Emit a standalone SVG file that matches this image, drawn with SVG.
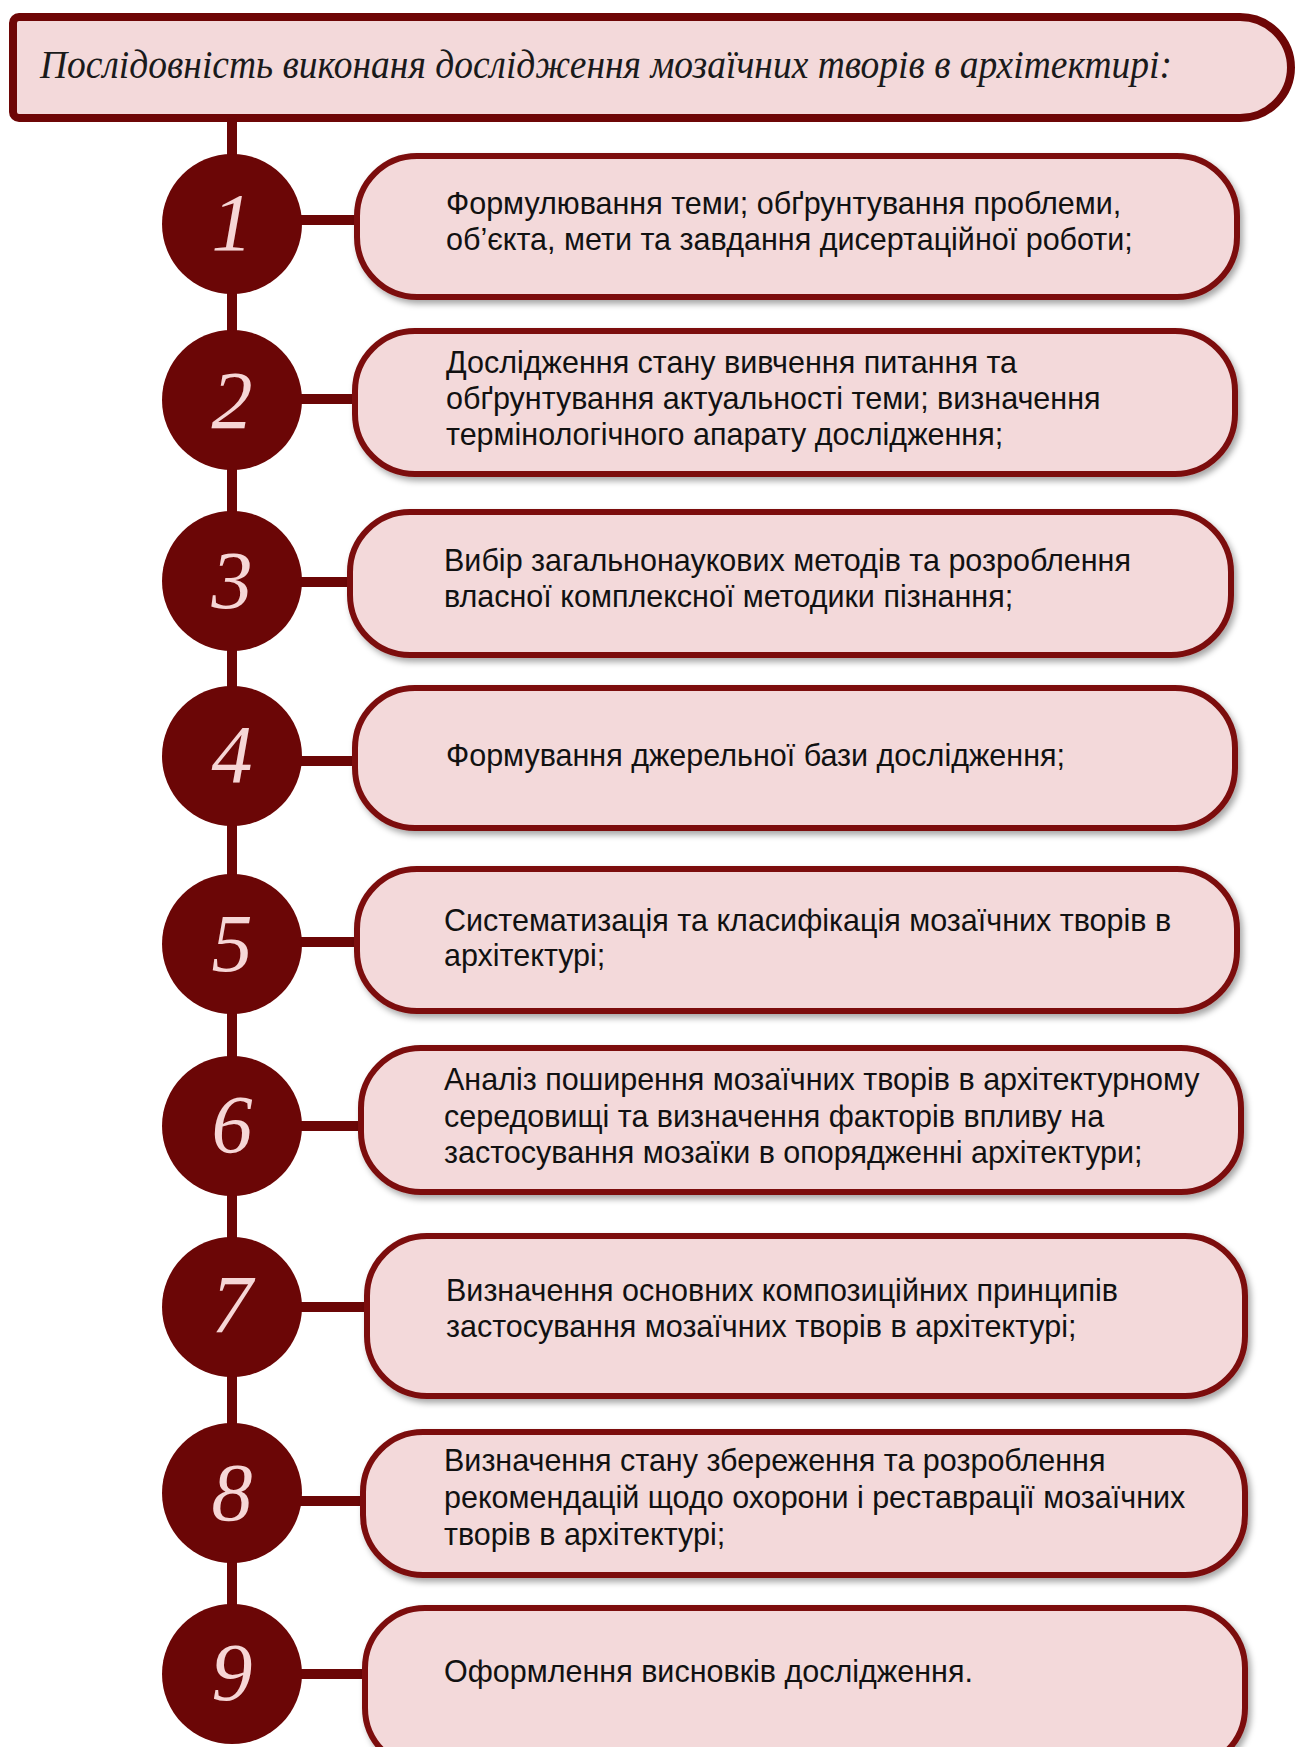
<svg xmlns="http://www.w3.org/2000/svg" width="1295" height="1747" viewBox="0 0 1295 1747">
<defs>
<filter id="sh" x="-5%" y="-10%" width="112%" height="130%">
<feDropShadow dx="3" dy="4" stdDeviation="3" flood-color="#000" flood-opacity="0.35"/>
</filter>
<style>
.box{fill:#f3d9da;stroke:#7b0e0e;stroke-width:6;filter:url(#sh)}
.title{fill:#f3d9da;stroke:#6e0606;stroke-width:8}
.circ{fill:#6b0606}
.num{font-family:"Liberation Serif","Times New Roman",serif;font-style:italic;font-size:82px;fill:#f6d6d6;text-anchor:middle}
.t{font-family:"Liberation Sans",Arial,sans-serif;font-size:30.5px;fill:#111}
.tt{font-family:"Liberation Serif","Times New Roman",serif;font-style:italic;font-size:40px;fill:#1a1a1a}
.ln{stroke:#6b0606;stroke-width:10;fill:none}
</style>
</defs>
<rect width="1295" height="1747" fill="#ffffff"/>
<g id="title">
<path class="title" d="M19 17 H1240 A51 51 0 0 1 1291 68 V67 A51 51 0 0 1 1240 118 H19 A6 6 0 0 1 13 112 V23 A6 6 0 0 1 19 17 Z"/>
<text class="tt" x="40" y="78" textLength="1132" lengthAdjust="spacingAndGlyphs">Послідовність виконаня дослідження мозаїчних творів в архітектирі:</text>
</g>
<g id="connectors">
<line class="ln" x1="232" y1="118" x2="232" y2="1700"/>
<line class="ln" x1="232" y1="220" x2="357" y2="220"/>
<line class="ln" x1="232" y1="399" x2="355" y2="399"/>
<line class="ln" x1="232" y1="582" x2="350" y2="582"/>
<line class="ln" x1="232" y1="761" x2="355" y2="761"/>
<line class="ln" x1="232" y1="942" x2="357" y2="942"/>
<line class="ln" x1="232" y1="1126" x2="361" y2="1126"/>
<line class="ln" x1="232" y1="1307" x2="367" y2="1307"/>
<line class="ln" x1="232" y1="1501" x2="363" y2="1501"/>
<line class="ln" x1="232" y1="1674" x2="365" y2="1674"/>
</g>
<g id="node1">
<circle class="circ" cx="232" cy="224" r="70"/>
<text class="num" x="232" y="250">1</text>
<rect class="box" x="357" y="156" width="880" height="141" rx="60"/>
<text class="t" x="446" y="214">Формулювання теми; обґрунтування проблеми,</text>
<text class="t" x="446" y="250">об’єкта, мети та завдання дисертаційної роботи;</text>
</g>
<g id="node2">
<circle class="circ" cx="232" cy="400" r="70"/>
<text class="num" x="232" y="428">2</text>
<rect class="box" x="355" y="331" width="880" height="143" rx="60"/>
<text class="t" x="446" y="373">Дослідження стану вивчення питання та</text>
<text class="t" x="446" y="409">обґрунтування актуальності теми; визначення</text>
<text class="t" x="446" y="445">термінологічного апарату дослідження;</text>
</g>
<g id="node3">
<circle class="circ" cx="232" cy="581" r="70"/>
<text class="num" x="232" y="608">3</text>
<rect class="box" x="350" y="512" width="881" height="143" rx="60"/>
<text class="t" x="444" y="571">Вибір загальнонаукових методів та розроблення</text>
<text class="t" x="444" y="607">власної комплексної методики пізнання;</text>
</g>
<g id="node4">
<circle class="circ" cx="232" cy="756" r="70"/>
<text class="num" x="232" y="782">4</text>
<rect class="box" x="355" y="688" width="880" height="140" rx="60"/>
<text class="t" x="446" y="766">Формування джерельної бази дослідження;</text>
</g>
<g id="node5">
<circle class="circ" cx="232" cy="944" r="70"/>
<text class="num" x="232" y="971">5</text>
<rect class="box" x="357" y="869" width="880" height="142" rx="60"/>
<text class="t" x="444" y="931">Систематизація та класифікація мозаїчних творів в</text>
<text class="t" x="444" y="966">архітектурі;</text>
</g>
<g id="node6">
<circle class="circ" cx="232" cy="1126" r="70"/>
<text class="num" x="232" y="1152">6</text>
<rect class="box" x="361" y="1048" width="880" height="144" rx="60"/>
<text class="t" x="444" y="1090">Аналіз поширення мозаїчних творів в архітектурному</text>
<text class="t" x="444" y="1127">середовищі та визначення факторів впливу на</text>
<text class="t" x="444" y="1163">застосування мозаїки в опорядженні архітектури;</text>
</g>
<g id="node7">
<circle class="circ" cx="232" cy="1307" r="70"/>
<text class="num" x="232" y="1332">7</text>
<rect class="box" x="367" y="1236" width="878" height="160" rx="60"/>
<text class="t" x="446" y="1301">Визначення основних композиційних принципів</text>
<text class="t" x="446" y="1337">застосування мозаїчних творів в архітектурі;</text>
</g>
<g id="node8">
<circle class="circ" cx="232" cy="1493" r="70"/>
<text class="num" x="232" y="1520">8</text>
<rect class="box" x="363" y="1432" width="882" height="143" rx="60"/>
<text class="t" x="444" y="1471">Визначення стану збереження та розроблення</text>
<text class="t" x="444" y="1508">рекомендацій щодо охорони і реставрації мозаїчних</text>
<text class="t" x="444" y="1545">творів в архітектурі;</text>
</g>
<g id="node9">
<circle class="circ" cx="232" cy="1674" r="70"/>
<text class="num" x="232" y="1700">9</text>
<rect class="box" x="365" y="1608" width="880" height="160" rx="60"/>
<text class="t" x="444" y="1682">Оформлення висновків дослідження.</text>
</g>
</svg>
